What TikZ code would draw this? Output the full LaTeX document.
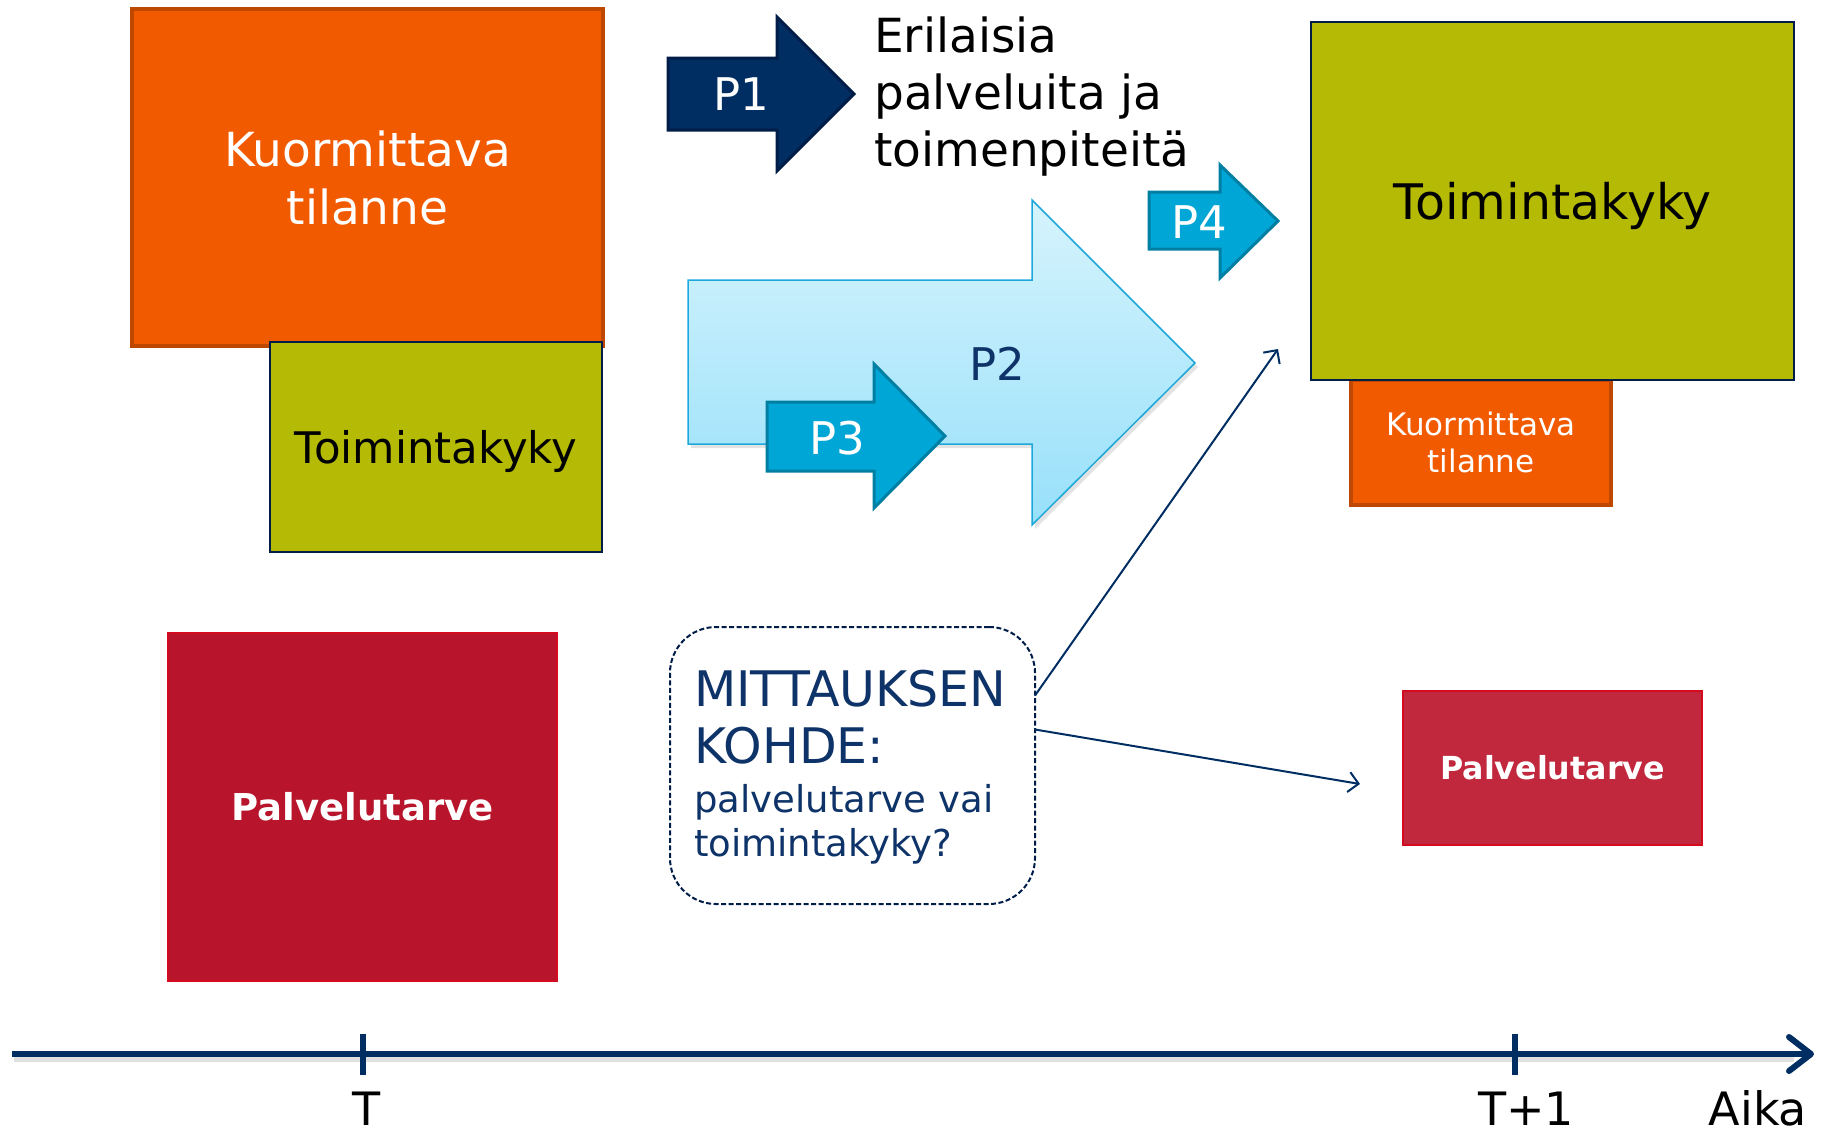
\documentclass[tikz,border=0pt]{standalone}
\usepackage{fontspec}
\setmainfont{DejaVu Sans}
\usetikzlibrary{arrows.meta,calc,shadows}
\definecolor{navy}{HTML}{002D62}
\definecolor{navyD}{HTML}{001D48}
\definecolor{orangeF}{HTML}{F25A00}
\definecolor{orangeB}{HTML}{BF4800}
\definecolor{olive}{HTML}{B5BA05}
\definecolor{redA}{HTML}{B8142B}
\definecolor{redB}{HTML}{C1283D}
\definecolor{redL}{HTML}{D40A1E}
\definecolor{cyanF}{HTML}{00A6D6}
\definecolor{cyanB}{HTML}{007FA3}
\definecolor{skyT}{HTML}{D6F4FD}
\definecolor{skyB}{HTML}{97E0FA}
\definecolor{skyL}{HTML}{1EA8DA}
\definecolor{txtnavy}{HTML}{0E3368}
\begin{document}
\begin{tikzpicture}[x=1pt,y=-1pt,
  box/.style={inner sep=0pt, outer sep=0pt, align=center, anchor=north west},
  orangebox/.style={box, fill=orangeF, draw=orangeB, line width=4pt, text=white},
  olivebox/.style={box, fill=olive, draw=navyD, line width=1.8pt, text=black, text depth=0pt},
  redbox/.style={box, draw=redL, line width=1.5pt, text=white},
  blockarrow/.style={line width=3pt, line join=miter},
  plabel/.style={text=white, font=\fontsize{45}{54}\selectfont, inner sep=0pt},
  conn/.style={draw=navy, line width=2pt, -{Straight Barb[length=10pt,width=20pt]}},
  axis/.style={draw=navy, line width=6pt},
  axlabel/.style={anchor=base, inner sep=0pt, font=\fontsize{46}{55}\selectfont, text=black}
]
\useasboundingbox (0,0) rectangle (1822,1136);

% left side
\node[orangebox, minimum width=471pt, minimum height=337pt,
      font=\fontsize{47}{58}\selectfont] (k1) at (132,9) {Kuormittava\\tilanne};
\node[olivebox, minimum width=332pt, minimum height=210pt,
      font=\fontsize{43.5}{52}\selectfont] (t1) at (270,342) {Toimintakyky};
\node[redbox, fill=redA, minimum width=389pt, minimum height=348pt,
      font=\bfseries\fontsize{37}{44}\selectfont] (pt1) at (168,633) {Palvelutarve};

% right side
\node[orangebox, minimum width=260pt, minimum height=125pt,
      font=\fontsize{31}{37}\selectfont] (k2) at (1351,380) {Kuormittava\\tilanne};
\node[olivebox, minimum width=483pt, minimum height=358pt,
      font=\fontsize{49}{58}\selectfont] (t2) at (1311,22) {Toimintakyky};
\node[redbox, fill=redB, minimum width=299pt, minimum height=154pt,
      font=\bfseries\fontsize{31.7}{38}\selectfont] (pt2) at (1403,691) {Palvelutarve};

% P1 arrow
\path[blockarrow, draw=navyD, fill=navy]
  (668,58) -- (777,58) -- (777,17) -- (854,94) -- (777,171) -- (777,130) -- (668,130) -- cycle;
\node[plabel] (p1) at (741,94) {P1};
\node[anchor=north west, align=left, inner sep=0pt, text=black,
      font=\fontsize{47}{57}\selectfont] (eril) at (874,17)
  {Erilaisia\\palveluita ja\\toimenpiteitä};

% P2 arrow
\path[line width=1.5pt, draw=skyL, top color=skyT, bottom color=skyB,
      drop shadow={shadow xshift=3pt, shadow yshift=-4pt, opacity=0.22}]
  (688,280) -- (1032,280) -- (1032,200) -- (1195,363) -- (1032,525) -- (1032,444) -- (688,444) -- cycle;
\node[plabel, text=txtnavy] (p2) at (997,364) {P2};

% P3 arrow
\path[blockarrow, draw=cyanB, fill=cyanF]
  (767,402) -- (874,402) -- (874,364) -- (945,436) -- (874,508) -- (874,471) -- (767,471) -- cycle;
\node[plabel] (p3) at (837,438) {P3};

% P4 arrow
\path[blockarrow, draw=cyanB, fill=cyanF]
  (1149,192) -- (1220,192) -- (1220,165) -- (1278,221) -- (1220,278) -- (1220,249) -- (1149,249) -- cycle;
\node[plabel] (p4) at (1199,222) {P4};

% measurement box
\node[box, draw=navyD, line width=2pt, dash pattern=on 5pt off 2.5pt, rounded corners=46pt,
      minimum width=365pt, minimum height=277pt] (mk) at (670,627) {};
\node[anchor=north west, inner sep=0pt, text width=340pt, align=left, text=txtnavy,
      font=\fontsize{37}{44}\selectfont] (mktext) at (694,669.5)
  {\fontsize{49}{57}\selectfont MITTAUKSEN\\KOHDE:\par\vspace{5pt}
   \fontsize{37}{44}\selectfont palvelutarve vai\\toimintakyky?\par};

\coordinate (e1) at (1278,349);
\coordinate (e2) at (1360,784);
\draw[conn] ($(mk.east)+(0,-70)$) -- (e1);
\draw[conn] ($(mk.east)+(0,-36)$) -- (e2);

% time axis
\coordinate (ax0) at (12,1054);
\coordinate (ax1) at (1814,1054);
\coordinate (tA) at (363,1034);
\coordinate (tB) at (363,1075);
\coordinate (tC) at (1515,1034);
\coordinate (tD) at (1515,1075);
\draw[axis, draw=black, opacity=0.12, line width=6pt] ($(ax0)+(2,5)$) -- ($(ax1)+(-20,5)$);
\draw[axis, -{Straight Barb[length=22pt,width=34pt,round]}] (ax0) -- (ax1);
\draw[axis] (tA) -- (tB);
\draw[axis] (tC) -- (tD);
\node[axlabel] (lT) at (367,1125) {T};
\node[axlabel] (lT1) at (1526,1125) {T+1};
\node[axlabel] (lAika) at (1758,1125) {Aika};
\end{tikzpicture}
\end{document}
